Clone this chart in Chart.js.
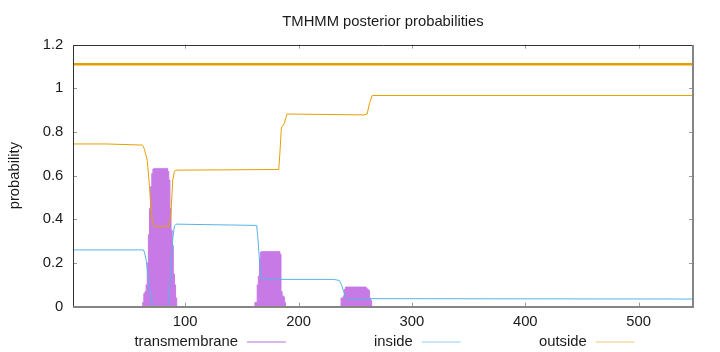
<!DOCTYPE html>
<html lang="en">
<head>
<meta charset="UTF-8">
<title>TMHMM posterior probabilities</title>
<script src="https://cdn.jsdelivr.net/npm/chart.js@4.4.1/dist/chart.umd.min.js"></script>
<style>
    body { margin: 0; background: #fff; }
    #wrap { width: 720px; height: 352px; }
</style>
</head>
<body>
<div id="wrap"><canvas id="tmhmm" width="720" height="352"></canvas></div>
<script>
    // sequence length and tick labels
    const seqStart = 1;
    const seqEnd = 548;
    const xTicks = [100, 200, 300, 400, 500];
    const yTicks = [0, 0.2, 0.4, 0.6, 0.8, 1, 1.2];
    const yTickLabels = ['0', '0.2', '0.4', '0.6', '0.8', '1', '1.2'];

    // transmembrane probability, one value per residue around each helix
    const helix1Start = 62;
    const helix1Prob = [0, 0.02, 0.06, 0.07, 0.1, 0.2, 0.33, 0.45, 0.55, 0.61, 0.63,
        0.633, 0.633, 0.633, 0.633, 0.633, 0.633, 0.633, 0.633, 0.633, 0.633, 0.633, 0.633,
        0.62, 0.58, 0.45, 0.35, 0.28, 0.15, 0.1, 0.04, 0];
    const helix2Start = 161;
    const helix2Prob = [0, 0.02, 0.02, 0.1, 0.14, 0.22, 0.25,
        0.253, 0.253, 0.253, 0.253, 0.253, 0.253, 0.253, 0.253,
        0.253, 0.253, 0.253, 0.253, 0.253, 0.253, 0.253, 0.253,
        0.24, 0.07, 0.05, 0.045, 0.02, 0];
    const helix3Start = 237;
    const helix3Prob = [0, 0.04, 0.04, 0.05, 0.08,
        0.09, 0.09, 0.09, 0.09, 0.09, 0.09, 0.09, 0.09, 0.09,
        0.09, 0.09, 0.09, 0.09, 0.09, 0.09, 0.09, 0.09, 0.09,
        0.085, 0.08, 0.075, 0.04, 0.03, 0];

    // inside probability (residue, value) read at the bends
    const insideRes = [1, 63, 64, 65.5, 67, 68.5, 70, 72, 83, 85, 86, 87.5, 89, 90.5, 92,
        163, 164, 165, 166, 167, 168, 231, 233, 236, 238, 240, 241, 242, 548];
    const insideProb = [0.26, 0.26, 0.25, 0.215, 0.155, 0.087, 0.03, 0, 0, 0.01, 0.063, 0.18, 0.31, 0.37, 0.378,
        0.372, 0.32, 0.25, 0.18, 0.13, 0.125, 0.125, 0.123, 0.12, 0.1, 0.065, 0.045, 0.037, 0.035];

    // outside probability (residue, value)
    const outsideRes = [1, 30, 62, 63, 64, 65, 66.5, 68.5, 70, 71.5, 73, 86, 87.5, 89, 90.5, 92,
        182.5, 183.5, 184.8, 187.5, 189.8, 258, 260.5, 262.5, 265, 548];
    const outsideProb = [0.745, 0.745, 0.74, 0.735, 0.72, 0.7, 0.67, 0.55, 0.43, 0.375, 0.368, 0.368, 0.44, 0.58, 0.62, 0.625,
        0.628, 0.7, 0.818, 0.84, 0.882, 0.878, 0.882, 0.93, 0.967, 0.967];

    // predicted topology line
    const topologyLevel = 1.11;

    const font = "'Liberation Sans', Arial, sans-serif";
    const textColor = '#1a1a1a';

    function helixPoints(start, probs) {
        return probs.map((p, i) => ({ x: start + i, y: p }));
    }
    function pairs(xs, ys) {
        return xs.map((x, i) => ({ x: x, y: ys[i] }));
    }

    const tmData = helixPoints(helix1Start, helix1Prob)
        .concat(helixPoints(helix2Start, helix2Prob))
        .concat(helixPoints(helix3Start, helix3Prob));

    // gnuplot style frame, inward ticks and key below the plot
    const gnuplotFrame = {
        id: 'gnuplotFrame',
        afterDraw(chart) {
            const ctx = chart.ctx;
            const a = chart.chartArea;
            const xs = chart.scales.x, ys = chart.scales.y;
            ctx.save();
            // ticks
            ctx.strokeStyle = '#999';
            ctx.lineWidth = 1;
            ctx.beginPath();
            xTicks.forEach(v => {
                const px = Math.round(xs.getPixelForValue(v)) + 0.5;
                ctx.moveTo(px, a.bottom); ctx.lineTo(px, a.bottom - 4);
                ctx.moveTo(px, a.top); ctx.lineTo(px, a.top + 4);
            });
            yTicks.forEach(v => {
                const py = Math.round(ys.getPixelForValue(v)) + 0.5;
                ctx.moveTo(a.left, py); ctx.lineTo(a.left + 4, py);
                ctx.moveTo(a.right, py); ctx.lineTo(a.right - 4, py);
            });
            ctx.stroke();
            // border
            ctx.strokeStyle = '#333';
            ctx.beginPath();
            ctx.moveTo(Math.round(a.left) + 0.5, Math.round(a.bottom));
            ctx.lineTo(Math.round(a.left) + 0.5, Math.round(a.top) + 0.5);
            ctx.lineTo(Math.round(a.right), Math.round(a.top) + 0.5);
            ctx.stroke();
            ctx.strokeStyle = '#858585';
            ctx.lineWidth = 2;
            ctx.beginPath();
            ctx.moveTo(Math.round(a.left), Math.round(a.bottom));
            ctx.lineTo(Math.round(a.right), Math.round(a.bottom));
            ctx.lineTo(Math.round(a.right), Math.round(a.top));
            ctx.stroke();
            // key
            const keyRight = [238, 412.7, 586.7];
            const keyY = 342;
            ctx.font = '14.8px ' + font;
            ctx.textAlign = 'right';
            ctx.textBaseline = 'middle';
            ctx.lineWidth = 1;
            chart.data.datasets.filter(d => d.keyColor).forEach((d, i) => {
                ctx.fillStyle = textColor;
                ctx.fillText(d.label, keyRight[i], keyY);
                ctx.strokeStyle = d.keyColor;
                ctx.beginPath();
                ctx.moveTo(keyRight[i] + 9, keyY);
                ctx.lineTo(keyRight[i] + 48, keyY);
                ctx.stroke();
            });
            ctx.restore();
        }
    };

    new Chart(document.getElementById('tmhmm'), {
        type: 'line',
        data: {
            datasets: [
                {
                    label: 'transmembrane',
                    data: tmData,
                    borderColor: '#c77ae6',
                    backgroundColor: '#c77ae6',
                    keyColor: '#b173dc',
                    borderWidth: 1,
                    pointRadius: 0,
                    stepped: 'middle',
                    fill: 'origin',
                    order: 5
                },
                {
                    label: 'inside',
                    data: pairs(insideRes, insideProb),
                    borderColor: '#56b4e9',
                    keyColor: '#8fd0f2',
                    borderWidth: 1,
                    pointRadius: 0,
                    order: 1
                },
                {
                    label: 'outside',
                    data: pairs(outsideRes, outsideProb),
                    borderColor: '#e69f00',
                    keyColor: '#f0c878',
                    borderWidth: 1,
                    pointRadius: 0,
                    order: 2
                },
                {
                    label: 'topology',
                    data: [{ x: seqStart, y: topologyLevel }, { x: seqEnd, y: topologyLevel }],
                    borderColor: '#e69f00',
                    borderWidth: 2.6,
                    pointRadius: 0,
                    order: 0
                }
            ]
        },
        options: {
            responsive: false,
            animation: false,
            events: [],
            layout: { padding: { top: 0, right: 27, bottom: 15.3, left: 0 } },
            plugins: {
                legend: { display: false },
                tooltip: { enabled: false },
                title: {
                    display: true,
                    text: 'TMHMM posterior probabilities',
                    fullSize: false,
                    color: textColor,
                    font: { family: font, size: 14.8, weight: 'normal' },
                    padding: { top: 13.1, bottom: 13.7 }
                }
            },
            scales: {
                x: {
                    type: 'linear',
                    min: seqStart,
                    max: seqEnd,
                    offset: false,
                    grid: { display: false, drawTicks: false },
                    border: { display: false },
                    afterBuildTicks: s => { s.ticks = xTicks.map(v => ({ value: v })); },
                    afterFit: s => { s.height = 30; },
                    ticks: {
                        padding: 6.4,
                        maxRotation: 0,
                        color: textColor,
                        font: { family: font, size: 14.8 }
                    }
                },
                y: {
                    min: 0,
                    max: 1.2,
                    grid: { display: false, drawTicks: false },
                    border: { display: false },
                    afterBuildTicks: s => { s.ticks = yTicks.map(v => ({ value: v })); },
                    afterFit: s => { s.width = 73; },
                    ticks: {
                        padding: 9.7,
                        color: textColor,
                        font: { family: font, size: 14.8 },
                        callback: (v, i) => yTickLabels[i]
                    },
                    title: {
                        display: true,
                        text: 'probability',
                        color: textColor,
                        font: { family: font, size: 14.8 },
                        padding: { top: 5.6, bottom: 0 }
                    }
                }
            }
        },
        plugins: [gnuplotFrame]
    });
</script>
</body>
</html>
